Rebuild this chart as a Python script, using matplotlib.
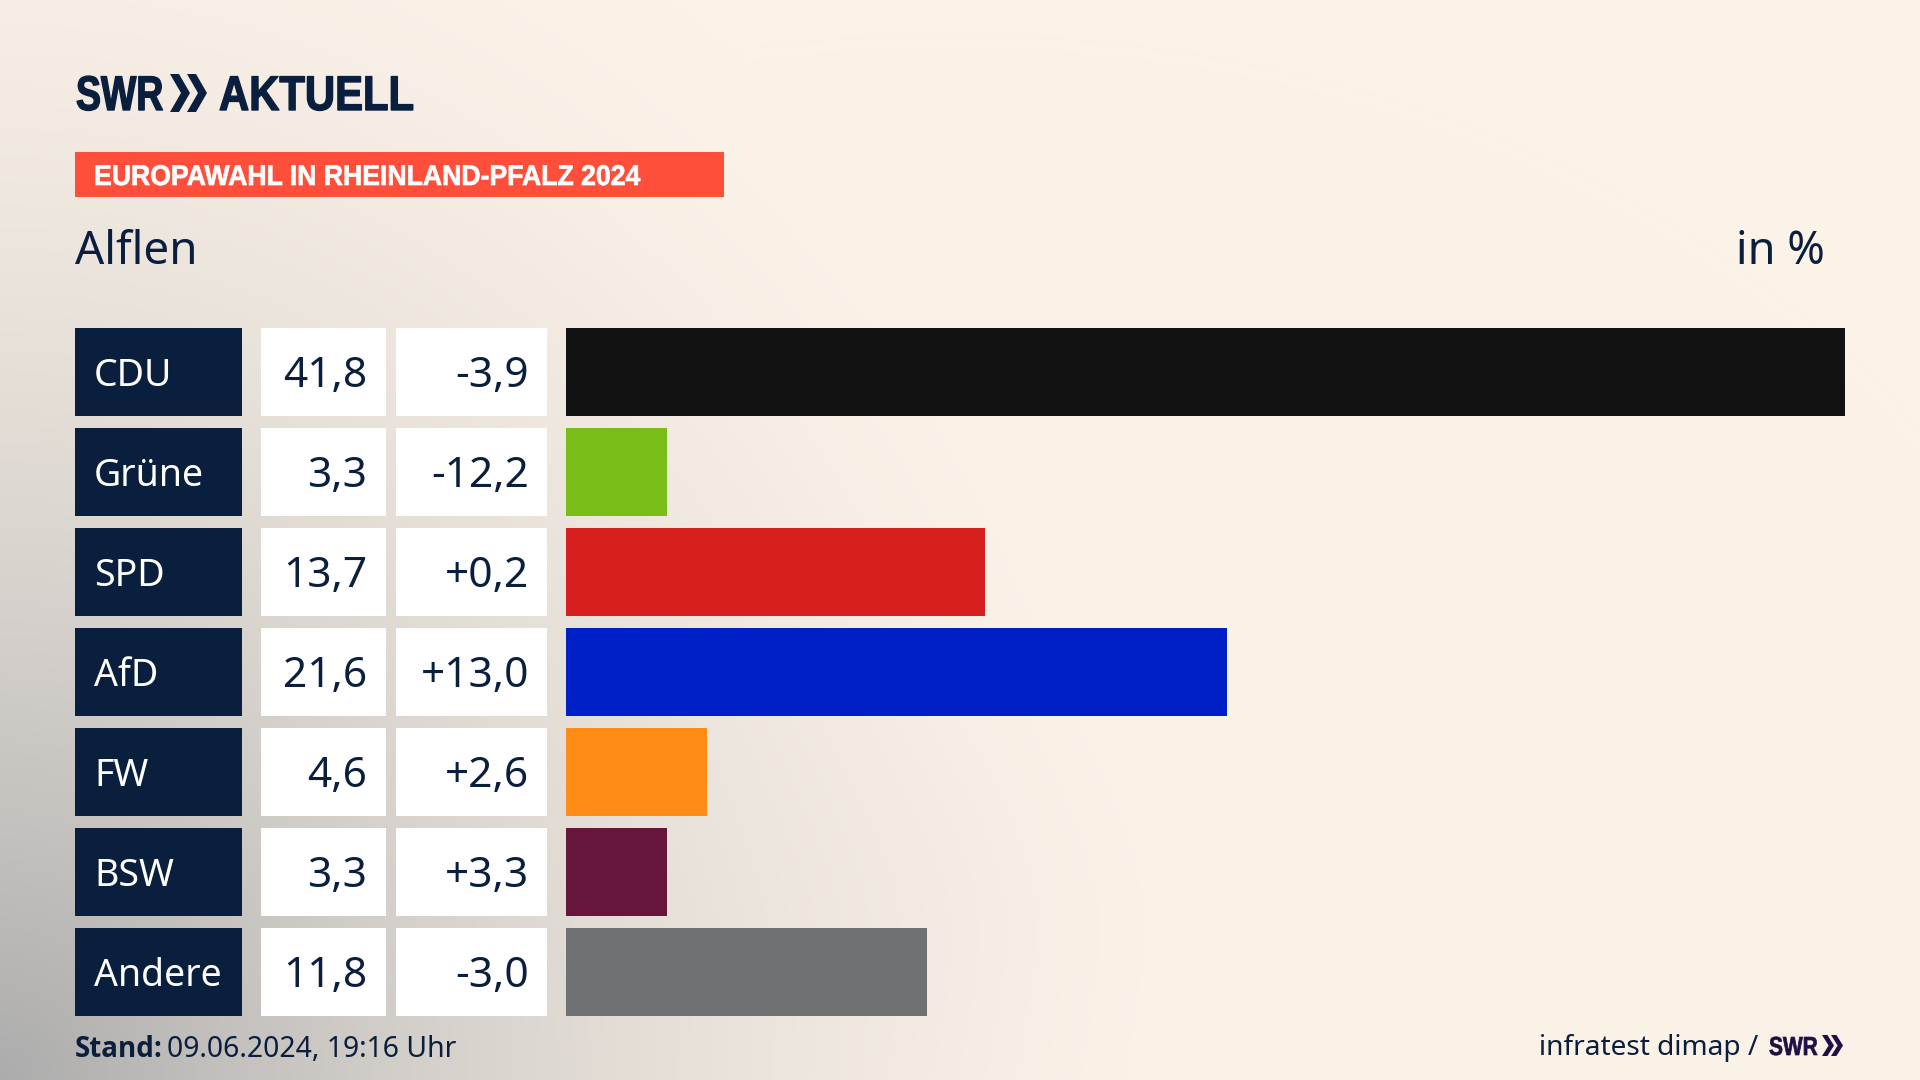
import numpy as np
import matplotlib
matplotlib.use("Agg")
import matplotlib.pyplot as plt
from matplotlib.patches import Polygon, Rectangle
from matplotlib.patheffects import AbstractPathEffect
from matplotlib.transforms import Affine2D

parties = ["CDU", "Grüne", "SPD", "AfD", "FW", "BSW", "Andere"]
values = [41.8, 3.3, 13.7, 21.6, 4.6, 3.3, 11.8]
changes = ["-3,9", "-12,2", "+0,2", "+13,0", "+2,6", "+3,3", "-3,0"]
colors = ["#121212", "#7ABD17", "#D61F1E", "#0020C7", "#FF8C14", "#66163B", "#707173"]

NAVY = "#0A1F3D"
FONT = ["Noto Sans", "DejaVu Sans"]
BOLD = ["Liberation Sans", "DejaVu Sans"]
plt.rcParams["font.family"] = FONT

W, H = 1920, 1080


class Squeeze(AbstractPathEffect):
    # narrows a left aligned text and thickens it a bit, there is no condensed bold font installed
    def __init__(self, sx, lw=0.0):
        super().__init__()
        self.sx = sx
        self.lw = lw

    def draw_path(self, renderer, gc, tpath, affine, rgbFace=None):
        gc0 = renderer.new_gc()
        gc0.copy_properties(gc)
        gc0.set_foreground(rgbFace)
        gc0.set_linewidth(self.lw)
        renderer.draw_path(gc0, tpath, Affine2D().scale(self.sx, 1) + affine, rgbFace)
        gc0.restore()


fig = plt.figure(figsize=(W / 100, H / 100), dpi=100)

# whole figure in pixels, y pointing down, for background and furniture
bg = fig.add_axes([0, 0, 1, 1])
bg.set_xlim(0, W)
bg.set_ylim(H, 0)
bg.axis("off")

# background: cream with a grey shadow from the lower left corner
yy, xx = np.mgrid[0:H:2, 0:W:2]
cream = np.array([251, 242, 232]) / 255
grey = np.array([172, 172, 172]) / 255
d = np.sqrt((xx / 1200) ** 2 + ((H - yy) / 1300) ** 2)
a = np.clip(1 - d, 0, 1) ** 1.65
a = np.clip(a + 0.02 * np.exp(-((xx - 950) / 200) ** 2 - ((yy - 900) / 150) ** 2), 0, 1)[..., None]
bg.imshow(cream * (1 - a) + grey * a, extent=(0, W, H, 0), aspect="auto", zorder=0)
bg.set_xlim(0, W)
bg.set_ylim(H, 0)


def chevrons(x, top, bottom, width, gap, color):
    # the two arrows of the SWR logo
    mid = (top + bottom) / 2
    thick = width * 0.45
    for i in range(2):
        x0 = x + i * gap
        pts = [(x0, top), (x0 + thick, top), (x0 + width, mid),
               (x0 + thick, bottom), (x0, bottom), (x0 + width - thick, mid)]
        bg.add_patch(Polygon(pts, closed=True, color=color, lw=0, zorder=3))


# logo
bg.text(76, 110, "SWR", family=BOLD, weight="bold", fontsize=35, color=NAVY, va="baseline", zorder=3,
        path_effects=[Squeeze(0.77, 1.0)])
chevrons(170, 74, 112, 20, 17, NAVY)
bg.text(219, 110, "AKTUELL", family=BOLD, weight="bold", fontsize=35, color=NAVY, va="baseline", zorder=3,
        path_effects=[Squeeze(0.86, 1.0)])

# banner and headings
bg.add_patch(Rectangle((75, 152), 649, 45, color="#FF4F3B", lw=0, zorder=2))
bg.text(94, 185, "EUROPAWAHL IN RHEINLAND-PFALZ 2024", family=BOLD, weight="bold", fontsize=20.5,
        color="white", va="baseline", zorder=3, path_effects=[Squeeze(0.935, 0.5)])
bg.text(75, 264, "Alflen", fontsize=33, color=NAVY, va="baseline", zorder=3)
bg.text(1825, 264, "in %", fontsize=32.5, color=NAVY, va="baseline", ha="right", zorder=3)

# table columns next to the bars
row_top = 328
row_h = 88.2
pitch = 100
for i, p in enumerate(parties):
    top = row_top + i * pitch
    mid = top + row_h / 2 + 15
    bg.add_patch(Rectangle((75, top), 167, row_h, color=NAVY, lw=0, zorder=2))
    bg.add_patch(Rectangle((261, top), 125, row_h, color="white", lw=0, zorder=2))
    bg.add_patch(Rectangle((396, top), 151, row_h, color="white", lw=0, zorder=2))
    bg.text(94, mid - 1, p, fontsize=27, color="white", va="baseline", zorder=3)
    bg.text(367, mid, f"{values[i]:.1f}".replace(".", ","), fontsize=30.5, color=NAVY, va="baseline", ha="right", zorder=3)
    bg.text(529, mid, changes[i], fontsize=30.5, color=NAVY, va="baseline", ha="right", zorder=3)

# bars, on their own axes so the length comes from the value scale
x0, x1 = 566, 1845
y_top, y_bot = row_top - (pitch - row_h) / 2, row_top + 7 * pitch - (pitch - row_h) / 2
ax = fig.add_axes([x0 / W, 1 - y_bot / H, (x1 - x0) / W, (y_bot - y_top) / H])
ax.patch.set_alpha(0)
ax.barh(range(len(parties)), values, height=row_h / pitch, color=colors)
ax.set_xlim(0, 41.8)
ax.set_ylim(len(parties) - 0.5, -0.5)
ax.axis("off")

# footer
bg.text(75, 1057, "Stand:", family=["Open Sans", "DejaVu Sans"], fontsize=20, weight="bold", color=NAVY,
        va="baseline", zorder=3)
bg.text(167, 1057, "09.06.2024, 19:16 Uhr", fontsize=20.4, color=NAVY, va="baseline", zorder=3)
bg.text(1758, 1055, "infratest dimap /", fontsize=20.2, color=NAVY, va="baseline", ha="right", zorder=3)
bg.text(1769, 1055, "SWR", family=BOLD, weight="bold", fontsize=18.8, color="#1F0F45", va="baseline", zorder=3,
        path_effects=[Squeeze(0.8, 0.5)])
chevrons(1822, 1035, 1056, 12, 9, "#1F0F45")

fig.savefig("out.png", dpi=100)
